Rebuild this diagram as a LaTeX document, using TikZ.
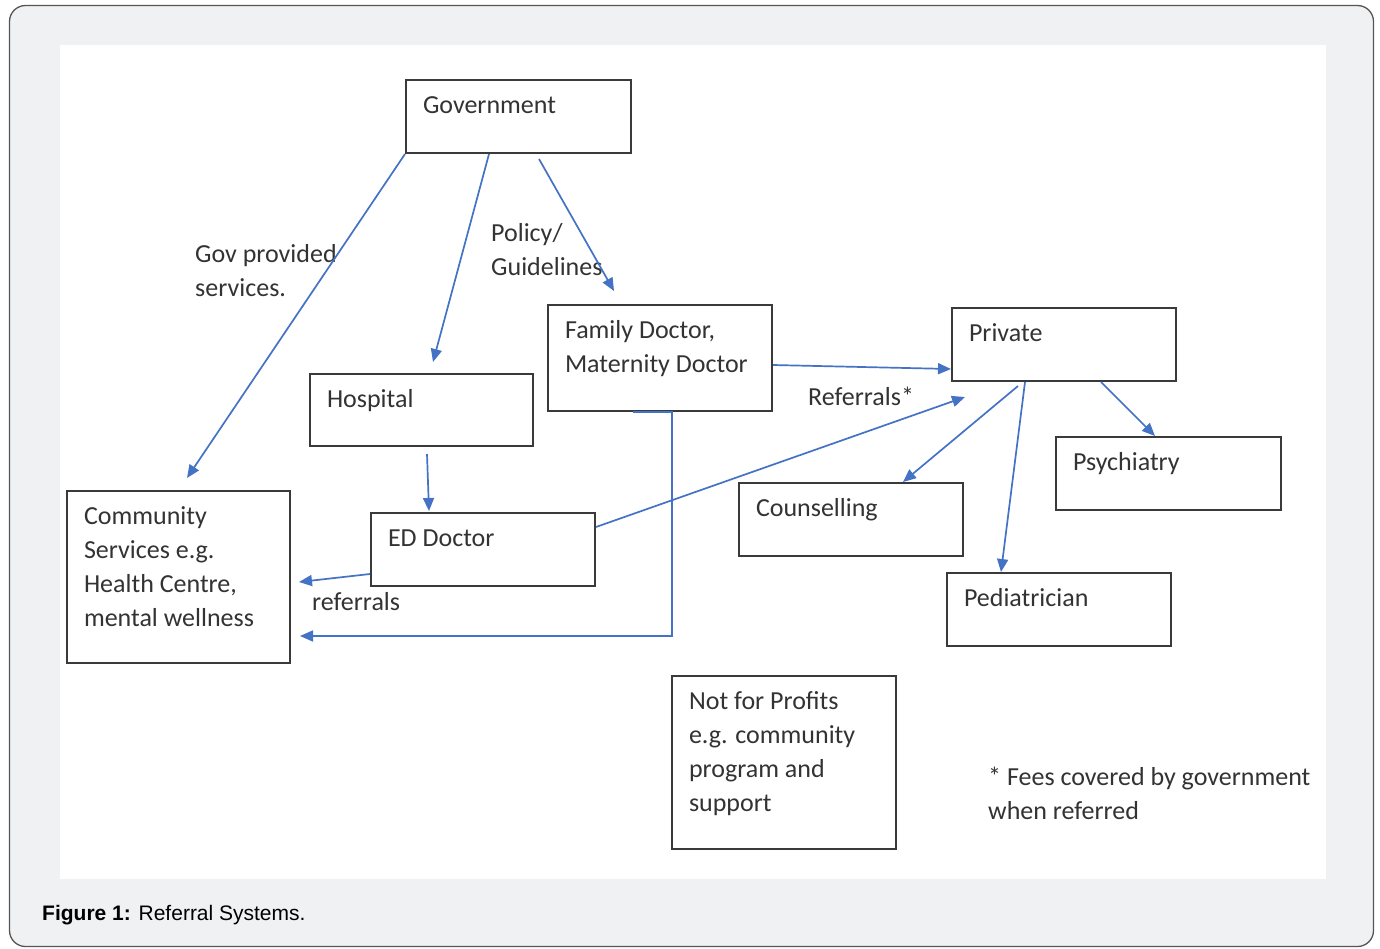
\documentclass[tikz,border=0pt]{standalone}
\usepackage{fontspec}
\setmainfont{Carlito}
\newfontfamily\capfont{Liberation Sans}
\usetikzlibrary{arrows.meta,calc}
\definecolor{arrowblue}{HTML}{4472C4}
\definecolor{framegray}{HTML}{F0F1F3}
\definecolor{frameline}{HTML}{555555}
\definecolor{inkgray}{HTML}{333333}
\definecolor{boxline}{HTML}{3A3A3A}
\newcommand{\bxtext}[3]{\parbox[c][#2][t]{#1}{\raggedright\leftskip=17pt\vspace*{13pt}\rule{0pt}{20pt}#3}}
\begin{document}
\begin{tikzpicture}[x=1pt,y=-1pt,
  font=\fontsize{26}{34}\selectfont,
  box/.style={draw=boxline, line width=2pt, inner sep=0pt, anchor=north west, text=inkgray},
  arr/.style={draw=arrowblue, line width=1.7pt, -{Triangle[length=13pt,width=11pt]}},
  lbl/.style={anchor=base west, inner sep=0pt, text=inkgray}]
\useasboundingbox (0,0) rectangle (1380,948);
% frame
\draw[fill=framegray, draw=frameline, line width=1.3pt, rounded corners=16pt] (9.5,5.5) rectangle (1373.5,946.5);
\fill[white] (60,45) rectangle (1326,879);
% boxes
\node[box] (gov)   at (405,79)  {\bxtext{225pt}{73pt}{Government}};
\node[box] (fam)   at (547,304) {\bxtext{224pt}{106pt}{Family Doctor,\\Maternity Doctor}};
\node[box] (priv)  at (951,307) {\bxtext{224pt}{73pt}{Private}};
\node[box] (hosp)  at (309,373) {\bxtext{223pt}{72pt}{Hospital}};
\node[box] (psy)   at (1055,436){\bxtext{225pt}{73pt}{Psychiatry}};
\node[box] (couns) at (738,482) {\bxtext{224pt}{73pt}{Counselling}};
\node[box] (ed)    at (370,512) {\bxtext{224pt}{73pt}{ED Doctor}};
\node[box] (comm)  at (66,490)  {\bxtext{223pt}{172pt}{Community\\Services e.g.\\Health Centre,\\mental wellness}};
\node[box] (ped)   at (946,572) {\bxtext{224pt}{73pt}{Pediatrician}};
\node[box] (nfp)   at (671,675) {\bxtext{224pt}{173pt}{Not for Profits\\e.g. community\\program and\\support}};
% labels
\node[lbl] (govl1) at (195,262) {Gov provided};
\node[lbl] (govl2) at (195,296) {services.};
\node[lbl] (pol1)  at (491,241) {Policy/};
\node[lbl] (pol2)  at (491,275) {Guidelines};
\node[lbl] (refl)  at (312,610) {referrals};
\node[lbl] (refs)  at (808,405) {Referrals*};
\node[lbl] (fee1)  at (988,785) {* Fees covered by government};
\node[lbl] (fee2)  at (988,819) {when referred};
% arrows
\draw[arr] (gov.south west) -- ([xshift=121pt,yshift=12pt]comm.north west);
\draw[arr] ([xshift=84pt]gov.south west) -- ([xshift=124pt,yshift=11pt]hosp.north west);
\draw[arr] ([xshift=134pt,yshift=-5pt]gov.south west) -- ([xshift=67pt,yshift=13pt]fam.north west);
\draw[arr] ([yshift=-61pt]fam.north east) -- ([yshift=-62pt]priv.north west);
\draw[arr] ([yshift=-15pt]ed.north east) -- ([xshift=14pt,yshift=-15pt]priv.south west);
\draw[arr] ([xshift=67pt,yshift=-4pt]priv.south west) -- ([xshift=165pt]couns.north west);
\draw[arr] ([xshift=74pt]priv.south west) -- ([xshift=55pt]ped.north west);
\draw[arr] ([xshift=150pt]priv.south west) -- ([xshift=100pt]psy.north west);
\draw[arr] ([xshift=118pt,yshift=-7pt]hosp.south west) -- ([xshift=59pt,yshift=1pt]ed.north west);
\draw[arr] ([yshift=13pt]ed.south west) -- ([xshift=8pt,yshift=82pt]comm.south east);
\draw[arr] ([xshift=86pt]fam.south west) -- ([xshift=125pt]fam.south west) |- ([xshift=9pt,yshift=28pt]comm.south east);
% caption
\node[anchor=base west, inner sep=0pt, font=\capfont\fontsize{21}{24}\selectfont, text=black] (cap) at (42,920) {\textbf{Figure 1:} Referral Systems.};
\end{tikzpicture}
\end{document}
